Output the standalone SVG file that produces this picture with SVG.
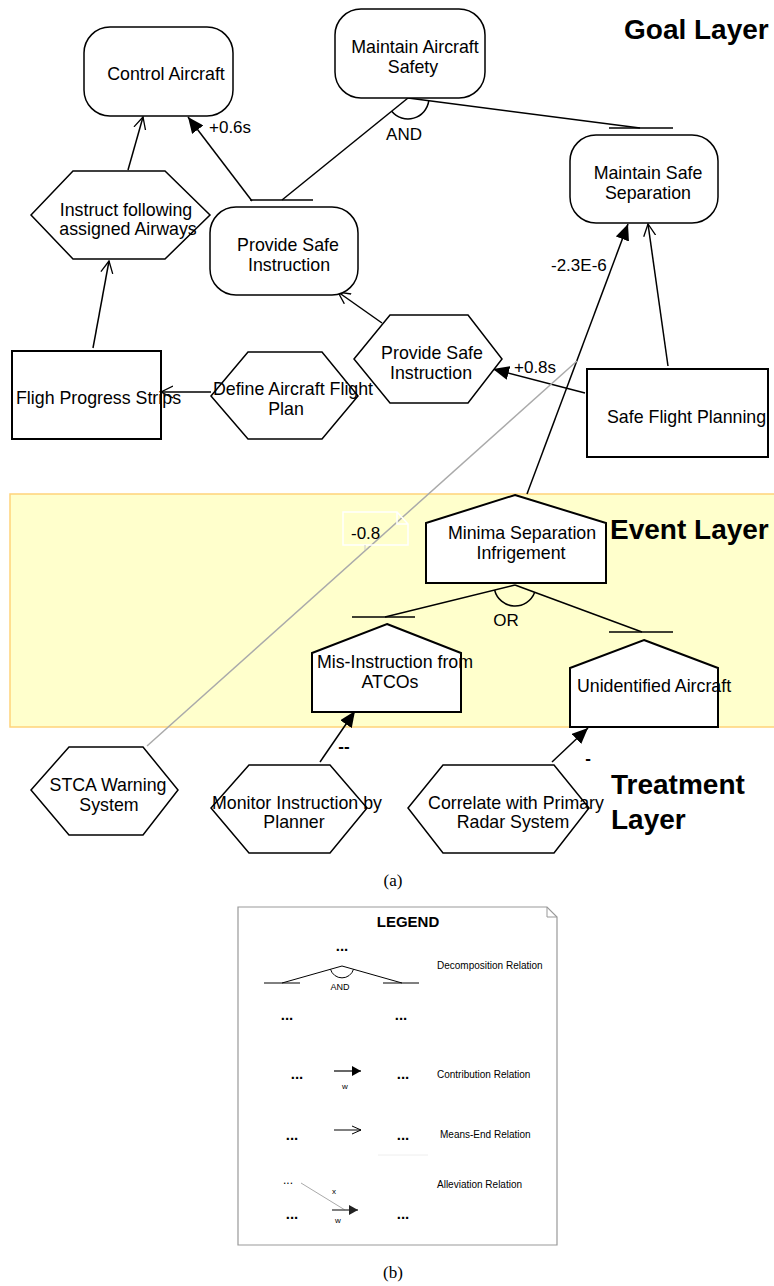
<svg xmlns="http://www.w3.org/2000/svg" width="774" height="1286" viewBox="0 0 774 1286">
<style>
  .node { fill: #fff; stroke: #000; stroke-width: 1.5; }
  .box { fill: #fff; stroke: #000; stroke-width: 2; }
  .t { font-family: "Liberation Sans", Arial, sans-serif; font-size: 17.8px; fill: #000; text-anchor: middle; }
  .ts { font-family: "Liberation Sans", Arial, sans-serif; font-size: 17.8px; fill: #000; }
  .lbl { font-family: "Liberation Sans", Arial, sans-serif; font-size: 17px; fill: #000; }
  .layer { font-family: "Liberation Sans", Arial, sans-serif; font-size: 28px; font-weight: bold; fill: #000; }
  .cap { font-family: "Liberation Serif", "Times New Roman", serif; font-size: 17px; fill: #000; text-anchor: middle; }
  .lg { font-family: "Liberation Sans", Arial, sans-serif; font-size: 10px; fill: #000; }
  .dots { font-family: "Liberation Sans", Arial, sans-serif; font-size: 15px; font-weight: bold; fill: #000; text-anchor: middle; }
  .ln { fill: none; stroke: #000; stroke-width: 1.5; }
  .bar { stroke: #000; stroke-width: 1.5; }
</style>
<defs>
  <marker id="af" markerWidth="16" markerHeight="14" refX="16" refY="7" orient="auto" markerUnits="userSpaceOnUse">
    <path d="M0,0 L16,7 L0,14 z" fill="#000"/>
  </marker>
  <marker id="ao" markerWidth="13" markerHeight="14" refX="12" refY="7" orient="auto" markerUnits="userSpaceOnUse">
    <path d="M0,1 L12,7 L0,13" fill="none" stroke="#000" stroke-width="1.3"/>
  </marker>
  <marker id="lf" markerWidth="9" markerHeight="10" refX="9" refY="5" orient="auto" markerUnits="userSpaceOnUse">
    <path d="M0,0 L9,5 L0,10 z" fill="#000"/>
  </marker>
  <marker id="lfg" markerWidth="9" markerHeight="10" refX="9" refY="5" orient="auto" markerUnits="userSpaceOnUse">
    <path d="M0,0 L9,5 L0,10 z" fill="#222"/>
  </marker>
  <marker id="lo" markerWidth="10" markerHeight="10" refX="9" refY="5" orient="auto" markerUnits="userSpaceOnUse">
    <path d="M0,1 L9,5 L0,9" fill="none" stroke="#000" stroke-width="1"/>
  </marker>
</defs>

<!-- Event layer band -->
<rect id="event-band" x="10" y="494" width="772" height="233" fill="#FFFFCC" stroke="#FFD37A" stroke-width="1.5"/>

<!-- Layer titles -->
<text class="layer" x="624" y="39">Goal Layer</text>
<text class="layer" x="610" y="539">Event Layer</text>
<text class="layer" x="611" y="794">Treatment</text>
<text class="layer" x="611" y="829">Layer</text>

<!-- Connectors -->
<g id="connectors">
  <!-- AND decomposition -->
  <line class="ln" x1="408" y1="98" x2="282" y2="200"/>
  <line class="ln" x1="408" y1="98" x2="640" y2="128"/>
  <line class="bar" x1="250" y1="200" x2="313" y2="200"/>
  <line class="bar" x1="609" y1="128" x2="673" y2="128"/>
  <path class="ln" d="M391.7,111.2 A21,21 0 0 0 428.8,100.7"/>
  <text class="lbl" x="404" y="140" text-anchor="middle">AND</text>

  <!-- contribution +0.6s -->
  <line class="ln" x1="252" y1="201" x2="188" y2="117" marker-end="url(#af)"/>
  <text class="lbl" x="209" y="133">+0.6s</text>

  <!-- means-end: Instruct -> Control Aircraft -->
  <line class="ln" x1="128" y1="170" x2="143" y2="117" marker-end="url(#ao)"/>
  <!-- FPS -> Instruct -->
  <line class="ln" x1="93" y1="348" x2="109" y2="261" marker-end="url(#ao)"/>
  <!-- DAFP -> FPS -->
  <line class="ln" x1="211" y1="392" x2="161" y2="392" marker-end="url(#ao)"/>
  <!-- PSI hex -> PSI goal -->
  <line class="ln" x1="382" y1="323" x2="338" y2="292" marker-end="url(#ao)"/>
  <!-- SFP -> MSS -->
  <line class="ln" x1="668" y1="366" x2="648" y2="224" marker-end="url(#ao)"/>
  <!-- SFP -> PSI hex +0.8s -->
  <line class="ln" x1="585" y1="393" x2="493" y2="369" marker-end="url(#af)"/>
  <text class="lbl" x="514" y="373">+0.8s</text>
  <!-- MSI -> MSS -2.3E-6 -->
  <line class="ln" x1="527" y1="494" x2="628" y2="224" marker-end="url(#af)"/>
  <text class="lbl" x="551" y="271">-2.3E-6</text>

  <!-- Alleviation gray line -->
  <line x1="147" y1="746" x2="577" y2="361" stroke="#AAAAAA" stroke-width="1.5"/>
  <!-- -0.8 note -->
  <path d="M343,512 L397,512 L408,524 L408,545 L343,545 Z M397,512 L397,524 L408,524" fill="none" stroke="#FFFFFF" stroke-width="1.5"/>
  <line x1="365" y1="545" x2="365" y2="550" stroke="#CCCCCC" stroke-width="1"/>
  <text class="lbl" x="351" y="539">-0.8</text>

  <!-- OR decomposition -->
  <line class="ln" x1="515" y1="585" x2="385" y2="617"/>
  <line class="ln" x1="515" y1="585" x2="642" y2="632"/>
  <line class="bar" x1="352" y1="617" x2="415" y2="617"/>
  <line class="bar" x1="609" y1="632" x2="673" y2="632"/>
  <path class="ln" d="M494.6,590 A21,21 0 0 0 534.7,592.3"/>
  <text class="lbl" x="506" y="626" text-anchor="middle">OR</text>

  <!-- Monitor -> Mis-Instruction -->
  <line class="ln" x1="320" y1="762" x2="355" y2="711" marker-end="url(#af)"/>
  <text class="lbl" x="344" y="752" font-weight="bold" text-anchor="middle">--</text>
  <!-- Correlate -> Unidentified -->
  <line class="ln" x1="552" y1="762" x2="588" y2="728" marker-end="url(#af)"/>
  <text class="lbl" x="588" y="764" font-weight="bold" text-anchor="middle">-</text>
</g>

<!-- Goal nodes -->
<g id="control-aircraft">
  <rect class="node" x="84" y="27" width="149" height="89" rx="26"/>
  <text class="t" x="166" y="80">Control Aircraft</text>
</g>
<g id="maintain-aircraft-safety">
  <rect class="node" x="335" y="9" width="150" height="89" rx="26"/>
  <text class="t" x="415" y="53">Maintain Aircraft</text>
  <text class="t" x="413" y="73">Safety</text>
</g>
<g id="provide-safe-instruction-goal">
  <rect class="node" x="210" y="207" width="148" height="88" rx="26"/>
  <text class="t" x="288" y="251">Provide Safe</text>
  <text class="t" x="289" y="271">Instruction</text>
</g>
<g id="maintain-safe-separation">
  <rect class="node" x="570" y="135" width="148" height="88" rx="26"/>
  <text class="t" x="648" y="179">Maintain Safe</text>
  <text class="t" x="648" y="199">Separation</text>
</g>

<!-- Tasks / resources -->
<g id="instruct-airways">
  <polygon class="node" points="31,215 73,171 165,171 210,215 165,259 73,259"/>
  <text class="t" x="126" y="216">Instruct following</text>
  <text class="t" x="128" y="235">assigned Airways</text>
</g>
<g id="flight-progress-strips">
  <rect class="box" x="12" y="351" width="149" height="88"/>
  <text class="ts" x="16" y="404">Fligh Progress Strips</text>
</g>
<g id="define-flight-plan">
  <polygon class="node" points="211,396 248,352 322,352 358,396 322,439 248,439"/>
  <text class="t" x="293" y="395">Define Aircraft Flight</text>
  <text class="t" x="286" y="415">Plan</text>
</g>
<g id="provide-safe-instruction-task">
  <polygon class="node" points="354,359 390,315 468,315 502,359 468,403 390,403"/>
  <text class="t" x="432" y="359">Provide Safe</text>
  <text class="t" x="431" y="379">Instruction</text>
</g>
<g id="safe-flight-planning">
  <rect class="box" x="587" y="369" width="181" height="88"/>
  <text class="ts" x="607" y="423">Safe Flight Planning</text>
</g>

<!-- Event nodes -->
<g id="minima-separation">
  <polygon class="box" points="515,495 606,523 606,583 426,583 426,523"/>
  <text class="t" x="522" y="539">Minima Separation</text>
  <text class="t" x="521" y="559">Infrigement</text>
</g>
<g id="mis-instruction">
  <polygon class="box" points="387,624 461,653 461,712 312,712 312,653"/>
  <text class="t" x="395" y="668">Mis-Instruction from</text>
  <text class="t" x="390" y="688">ATCOs</text>
</g>
<g id="unidentified-aircraft">
  <polygon class="box" points="644,640 718,668 718,727 570,727 570,668"/>
  <text class="t" x="654" y="692">Unidentified Aircraft</text>
</g>

<!-- Treatment nodes -->
<g id="stca">
  <polygon class="node" points="31,790 69,747 143,747 178,790 143,835 69,835"/>
  <text class="t" x="108" y="791">STCA Warning</text>
  <text class="t" x="109" y="811">System</text>
</g>
<g id="monitor-instruction">
  <polygon class="node" points="211,808 249,765 330,765 367,808 330,853 249,853"/>
  <text class="t" x="297" y="809">Monitor Instruction by</text>
  <text class="t" x="294" y="828">Planner</text>
</g>
<g id="correlate-radar">
  <polygon class="node" points="408,808 443,765 554,765 589,808 554,853 443,853"/>
  <text class="t" x="516" y="809">Correlate with Primary</text>
  <text class="t" x="513" y="828">Radar System</text>
</g>

<text class="cap" x="393" y="886">(a)</text>

<!-- Legend -->
<g id="legend">
  <path d="M238,907 L547,907 L557,917 L557,1245 L238,1245 Z" fill="#fff" stroke="#999" stroke-width="1.2"/>
  <path d="M547,907 L547,917 L557,917" fill="none" stroke="#999" stroke-width="1"/>
  <text x="408" y="927" font-family="Liberation Sans, Arial, sans-serif" font-size="15" font-weight="bold" text-anchor="middle">LEGEND</text>

  <text class="dots" x="342" y="951">...</text>
  <line x1="282" y1="983" x2="342" y2="966" stroke="#000" stroke-width="1"/>
  <line x1="342" y1="966" x2="402" y2="983" stroke="#000" stroke-width="1"/>
  <line x1="264" y1="983" x2="300" y2="983" stroke="#000" stroke-width="1"/>
  <line x1="383" y1="983" x2="419" y2="983" stroke="#000" stroke-width="1"/>
  <path d="M330.5,969.3 A12,12 0 0 0 353.5,969.3" fill="none" stroke="#000" stroke-width="1"/>
  <text x="340" y="990" font-family="Liberation Sans, Arial, sans-serif" font-size="9" text-anchor="middle">AND</text>
  <text class="lg" x="437" y="969">Decomposition Relation</text>
  <text class="dots" x="287" y="1020">...</text>
  <text class="dots" x="401" y="1020">...</text>

  <text class="dots" x="297" y="1079">...</text>
  <line x1="334" y1="1071" x2="361" y2="1071" stroke="#000" stroke-width="1.2" marker-end="url(#lf)"/>
  <text x="345" y="1089" font-family="Liberation Sans, Arial, sans-serif" font-size="8" text-anchor="middle">w</text>
  <text class="dots" x="403" y="1079">...</text>
  <text class="lg" x="437" y="1078">Contribution Relation</text>

  <text class="dots" x="292" y="1140">...</text>
  <line x1="334" y1="1130" x2="361" y2="1130" stroke="#000" stroke-width="1" marker-end="url(#lo)"/>
  <text class="dots" x="403" y="1140">...</text>
  <text class="lg" x="440" y="1138">Means-End Relation</text>
  <line x1="378" y1="1155" x2="428" y2="1155" stroke="#EEEEEE" stroke-width="1"/>

  <text x="288" y="1184" font-family="Liberation Sans, Arial, sans-serif" font-size="12" text-anchor="middle">...</text>
  <line x1="301" y1="1183" x2="345" y2="1210" stroke="#AAAAAA" stroke-width="1"/>
  <text x="334" y="1194" font-family="Liberation Sans, Arial, sans-serif" font-size="8" text-anchor="middle">x</text>
  <line x1="332" y1="1210" x2="358" y2="1210" stroke="#555" stroke-width="1.5" marker-end="url(#lfg)"/>
  <text x="338" y="1223" font-family="Liberation Sans, Arial, sans-serif" font-size="8" text-anchor="middle">w</text>
  <text class="dots" x="292" y="1219">...</text>
  <text class="dots" x="403" y="1219">...</text>
  <text class="lg" x="437" y="1188">Alleviation Relation</text>
</g>

<text class="cap" x="393" y="1278">(b)</text>
</svg>
